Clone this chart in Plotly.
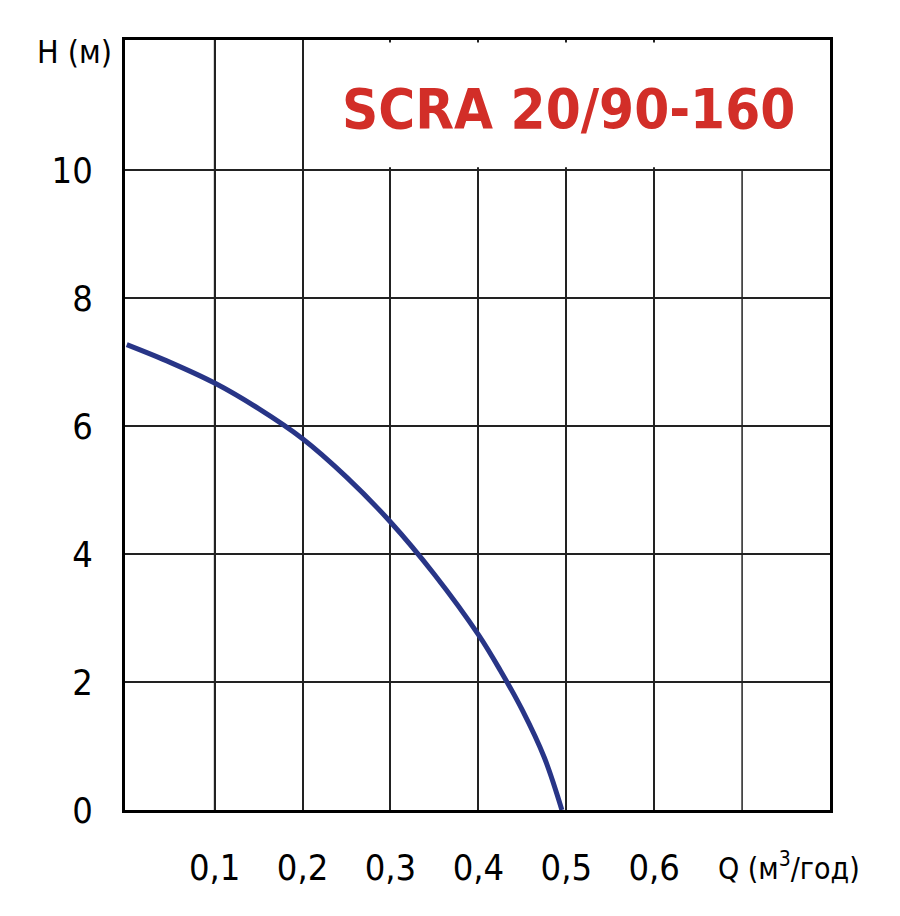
import plotly.graph_objs as go

# pump curve SCRA 20/90-160
q_flow = [0, 0.05, 0.1, 0.15, 0.2, 0.25, 0.3, 0.35, 0.4, 0.425, 0.45, 0.475, 0.495]
h_head = [7.27, 6.99, 6.67, 6.27, 5.80, 5.20, 4.50, 3.68, 2.74, 2.18, 1.56, 0.82, 0]

x_ticks = [0.1, 0.2, 0.3, 0.4, 0.5, 0.6]
x_labels = ['0,1', '0,2', '0,3', '0,4', '0,5', '0,6']
y_ticks = [0, 2, 4, 6, 8, 10]
y_labels = ['0', '2', '4', '6', '8', '10']

FONT = 'DejaVu Sans Condensed, Liberation Sans, sans-serif'

data = [
    go.Scatter(
        x=q_flow, y=h_head,
        mode='lines',
        line=dict(color='#283587', width=5, shape='spline', smoothing=1),
        hoverinfo='x+y',
        showlegend=False
    )
]

# the page has an 8px body margin, so the figure is a bit smaller than the window
layout = go.Layout(
    width=892, height=908,
    margin=dict(l=117, r=70, t=32, b=106),
    paper_bgcolor='white',
    plot_bgcolor='white',
    font=dict(family=FONT, size=36, color='black'),
    xaxis=dict(
        range=[-0.002, 0.8],
        tickvals=x_ticks, ticktext=x_labels,
        ticks='', ticklabelstandoff=24,
        showgrid=True, gridcolor='#222222', gridwidth=1.5,
        showline=True, linecolor='black', linewidth=3, mirror=True,
        zeroline=False, fixedrange=True
    ),
    yaxis=dict(
        range=[0, 12.03],
        tickvals=y_ticks, ticktext=y_labels,
        ticks='', ticklabelstandoff=22,
        showgrid=True, gridcolor='#222222', gridwidth=2,
        showline=True, linecolor='black', linewidth=3, mirror=True,
        zeroline=False, fixedrange=True
    ),
    shapes=[
        # blank area behind the model name (no vertical grid there)
        dict(type='rect', xref='x', yref='y', layer='between',
             x0=0.203, x1=0.797, y0=10.04, y1=11.99,
             fillcolor='white', line=dict(width=0)),
        # unlabelled vertical line at 0.7
        dict(type='line', xref='x', yref='y', layer='between',
             x0=0.7, x1=0.7, y0=0, y1=10,
             line=dict(color='#222222', width=1.5)),
        # first vertical line is lighter in the original
        dict(type='line', xref='x', yref='paper', layer='between',
             x0=0.1, x1=0.1, y0=0, y1=1,
             line=dict(color='#8a8a8a', width=2)),
    ],
    annotations=[
        dict(text='SCRA 20/90-160', xref='paper', yref='paper',
             x=(568 - 125) / 705, y=(810 - 108) / 770,
             xanchor='center', yanchor='middle', showarrow=False,
             font=dict(family=FONT, size=56, color='#d22e28', weight='bold')),
        dict(text='H (м)', xref='paper', yref='paper',
             x=(114 - 125) / 705, y=(810 - 52) / 770,
             xanchor='right', yanchor='middle', showarrow=False,
             font=dict(family=FONT, size=32)),
        dict(text='Q (м<sup>3</sup>/год)', xref='paper', yref='paper',
             x=(716 - 125) / 705, y=(810 - 866) / 770,
             xanchor='left', yanchor='middle', showarrow=False,
             font=dict(family=FONT, size=30)),
    ]
)

fig = go.Figure(data=data, layout=layout)
fig.write_html('out.html')
